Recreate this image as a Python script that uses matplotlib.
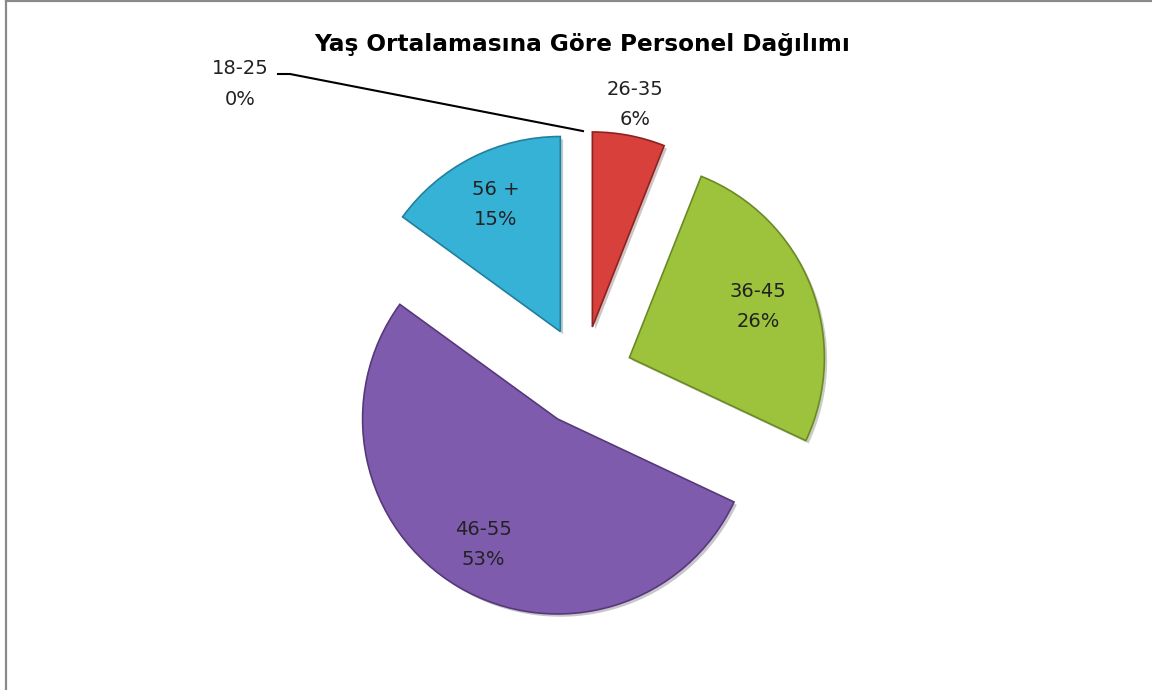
import matplotlib.pyplot as plt
import matplotlib.patheffects as pe
from matplotlib.lines import Line2D
import numpy as np

plt.rcParams['font.family'] = ['DejaVu Sans']

# --- Data ---
age_groups = ['18-25', '26-35', '36-45', '46-55', '56 +']
shares = [0, 6, 26, 53, 15]
colors = ['#4F81BD', '#D8403B', '#9CC33B', '#7F5BAD', '#36B2D7']
edge_colors = ['#385D8A', '#8C2320', '#6A8A25', '#56397A', '#23809C']
title = "Yaş Ortalamasına Göre Personel Dağılımı"

# --- Figure in pixel units ---
fig = plt.figure(figsize=(11.52, 6.9), dpi=100)
ax = fig.add_axes([0, 0, 1, 1])

R = 195
wedges, _ = ax.pie(shares, colors=colors, startangle=90, counterclock=False,
                   explode=[0.256 * R] * len(shares), radius=R, center=(583, 314),
                   wedgeprops=dict(linewidth=1.2))
for w, ec, s in zip(wedges, edge_colors, shares):
    w.set_edgecolor(ec)
    if s == 0:
        w.set_linewidth(0)
        continue
    w.set_path_effects([pe.SimplePatchShadow(offset=(2, -2), alpha=0.25), pe.Normal()])

ax.set_xlim(0, 1152)
ax.set_ylim(0, 690)
ax.set_aspect('equal')
ax.axis('off')

# --- Labels ---
label_dist = [None, 1.16, 0.71, 0.75, 0.73]
for w, lab, p, f in zip(wedges, age_groups, shares, label_dist):
    if f is None:
        continue
    mid = np.deg2rad((w.theta1 + w.theta2) / 2)
    x = w.center[0] + f * w.r * np.cos(mid)
    y = w.center[1] + f * w.r * np.sin(mid)
    ax.text(x, y, f"{lab}\n{p}%", ha='center', va='center', fontsize=14,
            color='#222222', linespacing=1.75)

# zero slice: label off to the left with a leader line
w0 = wedges[0]
a0 = np.deg2rad(w0.theta1)
ox = w0.center[0] + w0.r * np.cos(a0)
oy = w0.center[1] + w0.r * np.sin(a0)
ax.text(240, 606, f"{age_groups[0]}\n{shares[0]}%", ha='center', va='center',
        fontsize=14, color='#222222', linespacing=1.75)
ax.plot([278, 290, ox], [616, 616, oy], color='black', lw=1.5)

fig.text(582 / 1152, 1 - 45 / 690, title, ha='center', va='center',
         fontsize=16.7, fontweight='bold', color='black')

# border (top and left only)
fig.add_artist(Line2D([5.5 / 1152, 5.5 / 1152], [0, 1], color='#8a8a8a', lw=1.6))
fig.add_artist(Line2D([5.5 / 1152, 1], [1 - 0.8 / 690, 1 - 0.8 / 690], color='#8a8a8a', lw=1.6))

fig.savefig('out.png', dpi=100)
